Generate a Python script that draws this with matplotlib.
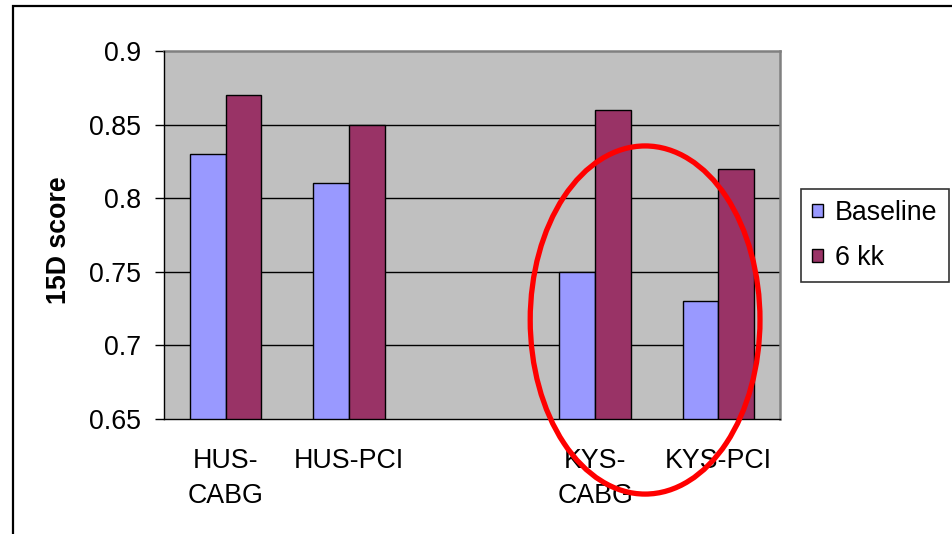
import numpy as np
import matplotlib
matplotlib.use("Agg")
import matplotlib.pyplot as plt
from matplotlib.patches import Rectangle, Ellipse, Patch

plt.rcParams["font.family"] = ["Liberation Sans", "DejaVu Sans"]

# data (blank slot between the HUS and KYS groups, as in the original sheet)
categories = ["HUS-\nCABG", "HUS-PCI", "", "KYS-\nCABG", "KYS-PCI"]
baseline = [0.83, 0.81, np.nan, 0.75, 0.73]
six_kk = [0.87, 0.85, np.nan, 0.86, 0.82]
series_names = ["Baseline", "6 kk"]
yticks = [0.65, 0.7, 0.75, 0.8, 0.85, 0.9]
ytick_labels = ["0.65", "0.7", "0.75", "0.8", "0.85", "0.9"]

C_BASE = "#9999FF"
C_6KK = "#993366"
FS = 19.3

W, H = 953, 534
fig = plt.figure(figsize=(W / 100, H / 100), dpi=100)
ax = fig.add_axes([164 / W, 1 - 419 / H, 616 / W, 368 / H])
ax.set_facecolor("#C0C0C0")

x = np.arange(len(categories))
bw = 0.29
b = np.array(baseline)
k = np.array(six_kk)
m = ~np.isnan(b)
ax.bar(x[m] - bw / 2, b[m], bw, color=C_BASE, edgecolor="black", linewidth=1.0, zorder=3)
ax.bar(x[m] + bw / 2, k[m], bw, color=C_6KK, edgecolor="black", linewidth=1.0, zorder=3)

ax.set_xlim(-0.5, len(categories) - 0.5)
ax.set_ylim(0.65, 0.9)
ax.set_yticks(yticks)
ax.set_yticklabels(ytick_labels, fontsize=FS)
ax.set_xticks(x)
ax.set_xticklabels(categories, fontsize=FS, linespacing=1.42)
ax.tick_params(axis="x", length=0, pad=21)
ax.tick_params(axis="y", length=6.5, width=1.0, direction="out", pad=10)

for yv in yticks[1:-1]:
    ax.axhline(yv, color="black", linewidth=1.0, zorder=1)

for s in ("left", "bottom"):
    ax.spines[s].set_color("black")
    ax.spines[s].set_linewidth(1.0)
    ax.spines[s].set_zorder(4)
for s in ("top", "right"):
    ax.spines[s].set_color("#808080")
    ax.spines[s].set_linewidth(1.8)

ax.set_ylabel("15D score", fontsize=FS, fontweight="bold")
ax.yaxis.set_label_coords(-0.15, 0.485)

# red highlight ellipse around the KYS groups
ax.add_patch(Ellipse((0.781, 0.269), 0.373, 0.946, transform=ax.transAxes,
                     fill=False, edgecolor="#FF0000", linewidth=3.8,
                     clip_on=False, zorder=6))

handles = [Patch(facecolor=C_BASE, edgecolor="black", linewidth=1.0),
           Patch(facecolor=C_6KK, edgecolor="black", linewidth=1.0)]
leg = fig.legend(handles, series_names, loc="upper left",
                 bbox_to_anchor=(801 / W, 1 - 189 / H), borderaxespad=0,
                 fontsize=FS, frameon=True, fancybox=False, shadow=False,
                 handlelength=0.4, handleheight=0.4, handletextpad=0.45,
                 labelspacing=0.7, borderpad=0.42)
leg.get_frame().set_edgecolor("black")
leg.get_frame().set_linewidth(1.2)

# outer chart border
fig.add_artist(Rectangle((13 / W, -0.1), 1.2, 1.1 - 5.5 / H, transform=fig.transFigure,
                         fill=False, edgecolor="black", linewidth=1.6))

fig.savefig("out.png", dpi=100)
